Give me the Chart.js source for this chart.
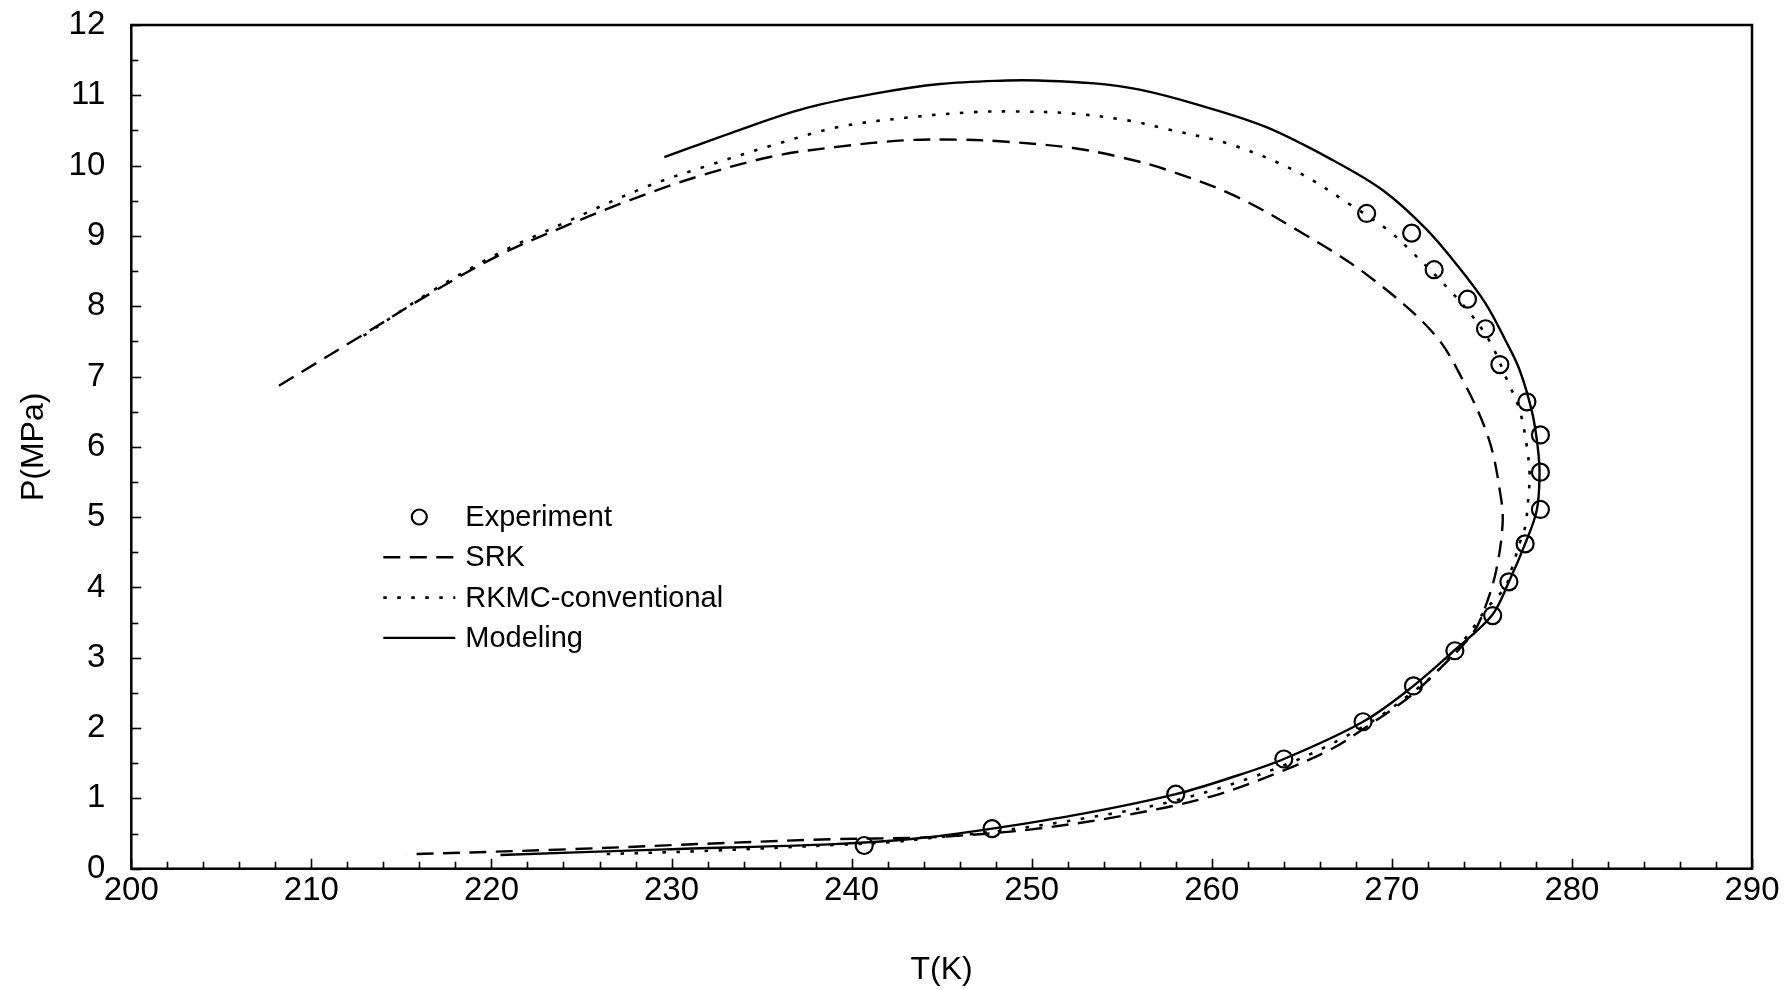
<!DOCTYPE html>
<html>
<head>
<meta charset="utf-8">
<title>P-T phase envelope</title>
<script src="https://cdn.jsdelivr.net/npm/chart.js@4.4.1/dist/chart.umd.min.js"></script>
<style>
  html, body { margin: 0; padding: 0; background: #fff; }
  #wrap { width: 1787px; height: 990px; }
</style>
</head>
<body>
<div id="wrap"><canvas id="ptChart" width="1787" height="990"></canvas></div>
<script>
// measured bubble/dew points
const expT = [240.7, 247.8, 258.0, 264.0, 268.4, 271.2, 273.5, 275.6, 276.5, 277.4,
              278.25, 278.25, 278.25, 277.5, 276.0, 275.2, 274.2, 272.35, 271.1, 268.6];
const expP = [0.33, 0.57, 1.06, 1.56, 2.09, 2.60, 3.10, 3.60, 4.08, 4.62,
              5.11, 5.64, 6.17, 6.64, 7.17, 7.68, 8.10, 8.52, 9.04, 9.32];

// SRK envelope, traced from the dew branch round to the bubble branch
const srkT = [208.2, 212.9, 216.6, 220.3, 224.0, 227.7, 231.4, 235.6, 239.3, 243.0,
              245.8, 248.6, 252.3, 255.1, 257.5, 261.2, 264.9, 268.6, 272.3, 274.0,
              275.4, 276.05, 276.15, 275.8, 275.2, 274.5, 272.6, 271.0, 268.6, 266.7,
              264.0, 260.0, 255.0, 250.0, 246.0, 243.6, 239.0, 233.4, 224.2, 215.3];
const srkP = [6.87, 7.60, 8.18, 8.71, 9.13, 9.51, 9.84, 10.13, 10.27, 10.36,
              10.37, 10.34, 10.25, 10.11, 9.94, 9.58, 9.06, 8.45, 7.62, 6.92,
              6.10, 5.29, 4.90, 4.25, 3.73, 3.35, 2.83, 2.45, 2.02, 1.71,
              1.40, 1.03, 0.75, 0.56, 0.47, 0.44, 0.42, 0.37, 0.275, 0.205];

// RKMC with conventional mixing rules
const rkmcT = [212.9, 216.6, 220.3, 224.0, 228.6, 231.9, 235.6, 239.3, 243.0, 246.7,
               249.1, 252.3, 255.4, 257.5, 261.2, 264.9, 267.6, 269.8, 271.0, 273.1,
               274.5, 275.5, 276.4, 277.1, 277.5, 277.65, 277.6, 277.4, 277.1, 276.7,
               276.3, 275.2, 274.3, 272.6, 271.3, 268.6, 264.3, 258.3, 253.0, 248.0,
               244.5, 242.3, 239.3, 231.6, 225.8];
const rkmcP = [7.58, 8.20, 8.74, 9.18, 9.70, 9.99, 10.29, 10.55, 10.68, 10.76,
               10.77, 10.74, 10.64, 10.52, 10.29, 9.89, 9.46, 9.08, 8.80, 8.26,
               7.85, 7.47, 6.95, 6.52, 6.00, 5.62, 5.34, 4.86, 4.63, 4.30,
               4.01, 3.68, 3.35, 2.83, 2.54, 2.05, 1.50, 0.99, 0.72, 0.53,
               0.44, 0.38, 0.34, 0.25, 0.205];

// this work
const modT = [229.6, 233.8, 237.5, 241.2, 244.9, 248.6, 250.4, 253.5, 256.0, 259.3,
              263.0, 266.7, 269.5, 271.9, 273.7, 275.2, 276.3, 277.1, 277.8, 278.1,
              278.2, 278.05, 277.4, 276.5, 275.55, 273.45, 271.2, 268.4, 264.0, 261.0,
              258.0, 253.0, 247.8, 243.6, 239.0, 229.7, 220.5];
const modP = [10.12, 10.51, 10.82, 11.02, 11.16, 11.21, 11.21, 11.17, 11.08, 10.86,
              10.55, 10.08, 9.65, 9.10, 8.56, 8.04, 7.52, 7.09, 6.48, 6.00,
              5.62, 5.10, 4.62, 4.08, 3.60, 3.10, 2.60, 2.09, 1.56, 1.29,
              1.06, 0.79, 0.57, 0.43, 0.35, 0.275, 0.195];

// axis tick labels
const xTicks = [200, 210, 220, 230, 240, 250, 260, 270, 280, 290];
const yTicks = [0, 1, 2, 3, 4, 5, 6, 7, 8, 9, 10, 11, 12];

const FONT = 'Liberation Sans, Arial, Helvetica, sans-serif';

function pairs(xs, ys) {
    return xs.map((x, i) => ({ x: x, y: ys[i] }));
}

// box round the plot plus inward major/minor tick marks
const frameAndTicks = {
    id: 'frameAndTicks',
    afterDatasetsDraw(chart) {
        const { ctx, chartArea: a, scales: { x, y } } = chart;
        ctx.save();
        ctx.strokeStyle = '#000';
        ctx.lineWidth = 1.6;
        for (let t = x.min; t <= x.max + 1e-6; t += 2) {
            const px = Math.round(x.getPixelForValue(t)) + 0.5;
            const len = (Math.round(t) % 10 === 0) ? 10 : 7;
            ctx.beginPath();
            ctx.moveTo(px, a.bottom);
            ctx.lineTo(px, a.bottom - len);
            ctx.stroke();
        }
        for (let v = y.min; v <= y.max + 1e-6; v += 0.5) {
            const py = Math.round(y.getPixelForValue(v)) + 0.5;
            const len = (Math.abs(v - Math.round(v)) < 1e-6) ? 10 : 7;
            ctx.beginPath();
            ctx.moveTo(a.left, py);
            ctx.lineTo(a.left + len, py);
            ctx.stroke();
        }
        ctx.lineWidth = 2.5;
        ctx.strokeRect(a.left, a.top, a.right - a.left, a.bottom - a.top);
        ctx.restore();
    }
};

// legend drawn inside the plot, left of the envelope
const insideLegend = {
    id: 'insideLegend',
    afterDraw(chart) {
        const { ctx, chartArea: a } = chart;
        const left = a.left + 252;
        const top = a.top + 492;
        const rowGap = 40.3;
        const sampleW = 72;
        ctx.save();
        ctx.font = '29px ' + FONT;
        ctx.fillStyle = '#000';
        ctx.textBaseline = 'middle';
        chart.data.datasets.forEach((ds, i) => {
            const yy = top + i * rowGap;
            ctx.strokeStyle = '#000';
            ctx.lineWidth = ds.showLine ? ds.borderWidth : ds.pointBorderWidth;
            if (ds.showLine) {
                ctx.setLineDash(ds.borderDash || []);
                ctx.beginPath();
                ctx.moveTo(left, yy);
                ctx.lineTo(left + sampleW, yy);
                ctx.stroke();
                ctx.setLineDash([]);
            } else {
                ctx.beginPath();
                ctx.arc(left + 36, yy, ds.pointRadius - 1, 0, Math.PI * 2);
                ctx.stroke();
            }
            ctx.fillText(ds.label, left + 82, yy + 1);
        });
        ctx.restore();
    }
};

const lineBase = {
    showLine: true,
    borderColor: '#000',
    borderWidth: 2.4,
    pointRadius: 0,
    pointHoverRadius: 0,
    tension: 0.35,
    fill: false
};

const chartEl = document.getElementById('ptChart');
const ptChart = new Chart(chartEl.getContext('2d'), {
    type: 'scatter',
    data: {
        datasets: [
            {
                label: 'Experiment',
                data: pairs(expT, expP),
                showLine: false,
                pointStyle: 'circle',
                pointRadius: 8.5,
                pointBorderWidth: 2.2,
                borderColor: '#000',
                backgroundColor: 'rgba(0,0,0,0)'
            },
            Object.assign({}, lineBase, { label: 'SRK', data: pairs(srkT, srkP), borderDash: [17, 9.5] }),
            Object.assign({}, lineBase, { label: 'RKMC-conventional', data: pairs(rkmcT, rkmcP), borderDash: [3.5, 10.5], borderWidth: 2.6 }),
            Object.assign({}, lineBase, { label: 'Modeling', data: pairs(modT, modP) })
        ]
    },
    options: {
        responsive: false,
        animation: false,
        layout: { padding: { top: 25, right: 35, left: 0, bottom: 0 } },
        plugins: {
            legend: { display: false },
            tooltip: { enabled: false }
        },
        scales: {
            x: {
                type: 'linear',
                min: 200,
                max: 290,
                afterBuildTicks: s => { s.ticks = xTicks.map(v => ({ value: v })); },
                afterFit: s => { s.height = 121.3; s.paddingLeft = 0; s.paddingRight = 0; },
                grid: { display: false, drawTicks: false },
                border: { display: false },
                ticks: { padding: 2, color: '#000', font: { family: FONT, size: 33 } },
                title: {
                    display: true, text: 'T(K)', color: '#000',
                    font: { family: FONT, size: 32 },
                    padding: { top: 0, bottom: 1 }
                }
            },
            y: {
                type: 'linear',
                min: 0,
                max: 12,
                afterBuildTicks: s => { s.ticks = yTicks.map(v => ({ value: v })); },
                afterFit: s => { s.width = 131.3; s.paddingTop = 0; s.paddingBottom = 0; },
                grid: { display: false, drawTicks: false },
                border: { display: false },
                ticks: { padding: 26, color: '#000', font: { family: FONT, size: 33 } },
                title: {
                    display: true, text: 'P(MPa)', color: '#000',
                    font: { family: FONT, size: 32 },
                    padding: { top: 15, bottom: 0 }
                }
            }
        }
    },
    plugins: [frameAndTicks, insideLegend]
});
</script>
</body>
</html>
